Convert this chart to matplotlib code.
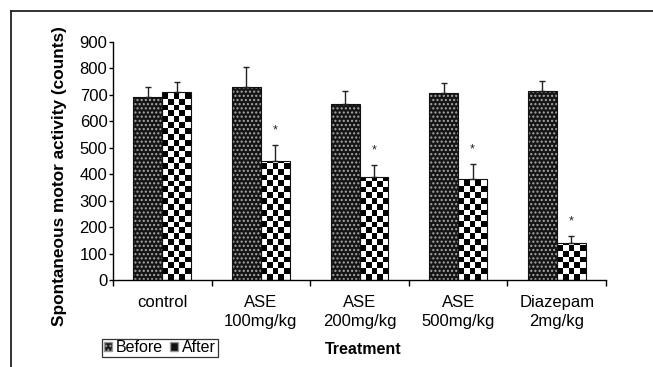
import numpy as np
import matplotlib
matplotlib.use("Agg")
import matplotlib.pyplot as plt
from matplotlib.patches import Patch
from matplotlib.lines import Line2D

plt.rcParams["font.family"] = ["Liberation Sans", "DejaVu Sans"]

categories = ["control", "ASE\n100mg/kg", "ASE\n200mg/kg", "ASE\n500mg/kg", "Diazepam\n2mg/kg"]
before = [692, 729, 666, 706, 715]
before_err = [38, 78, 49, 38, 38]
after = [711, 451, 388, 382, 139]
after_err = [38, 60, 46, 56, 29]
significant = [False, True, True, True, True]

fig = plt.figure(figsize=(6.53, 3.67), dpi=100)
ax = fig.add_axes([113 / 653, 1 - 280 / 367, 493 / 653, 238 / 367])

x = np.arange(len(categories))
w = 0.294

# before: dark with light dots
ax.bar(x - w / 2, before, w, color="#151515", edgecolor="#a8a8a8", hatch="....", linewidth=0, zorder=2)
ax.bar(x - w / 2, before, w, fill=False, edgecolor="#111111", linewidth=0.8, zorder=3)

# after: checkerboard texture clipped to each bar
after_bars = ax.bar(x + w / 2, after, w, color="white", edgecolor="#111111", linewidth=0.8, zorder=3)
cell = 22.0
for b in after_bars:
    bx, bw, bh = b.get_x(), b.get_width(), b.get_height()
    rows = int(np.ceil(bh / cell))
    board = (np.add.outer(np.arange(rows), np.arange(5)) % 2).astype(float)
    im = ax.imshow(board, cmap="gray_r", vmin=0, vmax=1, interpolation="nearest",
                   origin="lower", aspect="auto",
                   extent=(bx, bx + bw, 0, rows * cell), zorder=2)
    im.set_clip_path(b)
    b.set_facecolor("none")

ax.errorbar(x - w / 2, before, yerr=[np.zeros(5), before_err], fmt="none",
            ecolor="#222222", elinewidth=1, capsize=2.5, capthick=1, zorder=4)
ax.errorbar(x + w / 2, after, yerr=[np.zeros(5), after_err], fmt="none",
            ecolor="#222222", elinewidth=1, capsize=2.5, capthick=1, zorder=4)

for i, sig in enumerate(significant):
    if sig:
        ax.text(x[i] + w / 2, after[i] + after_err[i] + 55, "*", ha="center", va="center",
                fontsize=9, color="#222222")

ax.set_xlim(-0.5, len(categories) - 0.5)
ax.set_ylim(0, 900)
ax.set_yticks(range(0, 901, 100))
ax.tick_params(axis="y", length=3, width=1, labelsize=12, pad=1)
ax.set_xticks(x)
ax.set_xticklabels(categories, fontsize=12, linespacing=1.3, va="top")
ax.set_xticks(np.arange(len(categories) + 1) - 0.5, minor=True)
ax.tick_params(axis="x", which="major", length=0, pad=11)
ax.tick_params(axis="x", which="minor", length=4, width=1)
for s in ["top", "right"]:
    ax.spines[s].set_visible(False)
for s in ["left", "bottom"]:
    ax.spines[s].set_linewidth(1)

ax.set_ylabel("Spontaneous motor activity (counts)", fontsize=12.4, fontweight="bold")
ax.yaxis.set_label_coords(-0.093, 0.435)

fig.text(363 / 653, 1 - 349 / 367, "Treatment", ha="center", va="center",
         fontsize=11.5, fontweight="bold")

handles = [Patch(facecolor="#1c1c1c", edgecolor="#999999", hatch="...."),
           Patch(facecolor="#111111", edgecolor="#999999")]
leg = fig.legend(handles, ["Before", "After"], loc="center", ncol=2,
                 bbox_to_anchor=(160 / 653, 1 - 348 / 367), fontsize=11.5,
                 frameon=True, fancybox=False, handlelength=0.5, handleheight=0.5,
                 handletextpad=0.25, columnspacing=0.45, borderpad=0.1, borderaxespad=0)
leg.get_frame().set_edgecolor("black")
leg.get_frame().set_linewidth(0.9)

# partial chart border
fig.add_artist(Line2D([11 / 653, 11 / 653], [0, 1 - 11 / 367], color="#222222", lw=1.3))
fig.add_artist(Line2D([11 / 653, 1], [1 - 11 / 367, 1 - 11 / 367], color="#222222", lw=1.3))

fig.savefig("out.png", dpi=100)
